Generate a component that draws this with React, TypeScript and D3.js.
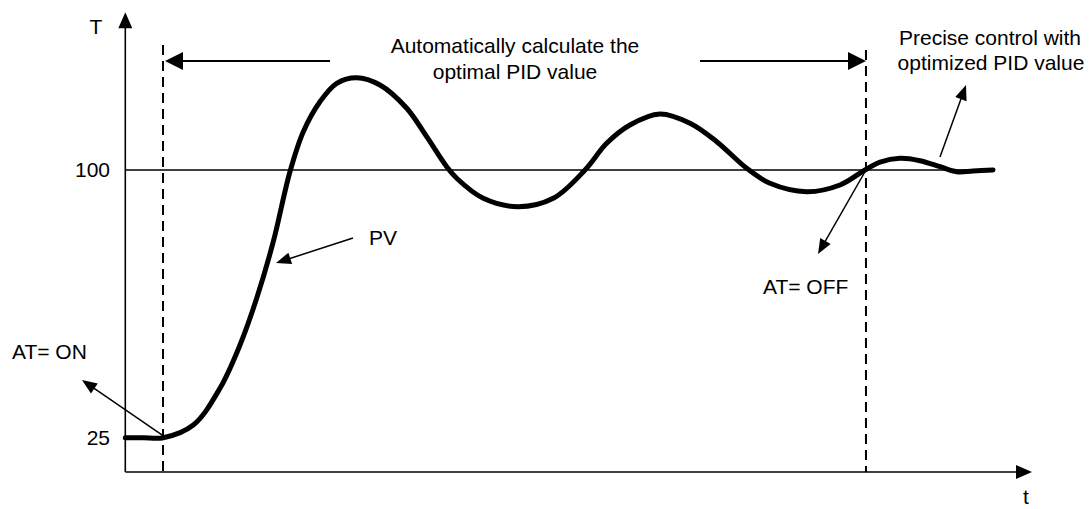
import React from "react";
import * as d3 from "d3";

// Process value (PV) curve: time (arbitrary units) and temperature
const time = [0, 2, 4.19, 7.5, 10.44, 12.65, 14.49, 16.32, 18.16, 19.63, 21.47, 23.32, 25.52, 28.09, 31.04, 33.24, 35.45, 36.55, 39.48, 43.34, 47.2, 50.7, 53.09, 55.66, 58.97, 62.28, 65.23, 68.53, 71.1, 75.15, 78.82, 81.58, 83.24, 85.44, 87.65, 89.85, 91.69, 93.49, 95.7];
const temp = [25, 25, 25, 28.56, 38.84, 50.97, 64.06, 79.91, 99.52, 110.73, 119.14, 124.29, 125.86, 123.82, 117.29, 109.33, 100.93, 97.68, 92.07, 89.72, 92.07, 100, 107.48, 112.61, 115.69, 113.09, 107.93, 100.48, 96.27, 93.92, 95.8, 100, 102.2, 103.28, 102.61, 100.93, 99.52, 99.72, 100];
const yTicks = [25, 100];
const setPoint = 100;
const atOnTime = 4.16;
const atOffTime = 81.69;
const xDomain = [0, 100];
const yAxisTop = 144.2;
const yAxisBottom = 15.4;

const FONT = "'Liberation Sans', Arial, sans-serif";

function arrowHead(x1: number, y1: number, x2: number, y2: number, len: number, half: number) {
  const a = Math.atan2(y2 - y1, x2 - x1);
  const bx = x2 - len * Math.cos(a);
  const by = y2 - len * Math.sin(a);
  const px = -Math.sin(a) * half;
  const py = Math.cos(a) * half;
  return `M${x2},${y2}L${bx + px},${by + py}L${bx - px},${by - py}Z`;
}

function Arrow({ x1, y1, x2, y2, len = 15, half = 6, w = 1.5 }: any) {
  const a = Math.atan2(y2 - y1, x2 - x1);
  const ex = x2 - (len - 2) * Math.cos(a);
  const ey = y2 - (len - 2) * Math.sin(a);
  return (
    <g>
      <line x1={x1} y1={y1} x2={ex} y2={ey} stroke="#000" strokeWidth={w} />
      <path d={arrowHead(x1, y1, x2, y2, len, half)} fill="#000" />
    </g>
  );
}

export default function App() {
  const W = 1091, H = 509;
  const x = d3.scaleLinear().domain(xDomain).range([125.3, 1032]);
  const y = d3.scaleLinear().domain([25, 100]).range([437.7, 170]);
  const pts: [number, number][] = time.map((t, i) => [x(t), y(temp[i])]);
  const line = d3.line().curve(d3.curveCatmullRom.alpha(0.5))(pts) || "";
  const x0 = x(0);
  const yBase = y(yAxisBottom);
  const yTop = y(yAxisTop);
  const xOn = x(atOnTime);
  const xOff = x(atOffTime);
  const xEnd = x(time[time.length - 1]);

  return (
    <svg width={W} height={H} style={{ position: "absolute", left: 0, top: 0, background: "#fff" }} fontFamily={FONT} fontSize={21}>
      <rect width={W} height={H} fill="#fff" />
      {/* set point line */}
      <line x1={x0} x2={xEnd} y1={y(setPoint)} y2={y(setPoint)} stroke="#000" strokeWidth={1.4} />
      {/* dashed lines */}
      <line x1={xOn} x2={xOn} y1={45} y2={yBase} stroke="#000" strokeWidth={2} strokeDasharray="10,6" />
      <line x1={xOff} x2={xOff} y1={50} y2={yBase} stroke="#000" strokeWidth={2} strokeDasharray="10,6" />
      {/* axes */}
      <line x1={x0} x2={x0} y1={yBase} y2={yTop + 12} stroke="#000" strokeWidth={1.6} />
      <path d={arrowHead(x0, yBase, x0, yTop, 16, 7)} fill="#000" />
      <line x1={x0} x2={x(xDomain[1]) - 12} y1={yBase} y2={yBase} stroke="#000" strokeWidth={1.6} />
      <path d={arrowHead(x0, yBase, x(xDomain[1]), yBase, 16, 7)} fill="#000" />
      <text x={96} y={34} textAnchor="middle">T</text>
      <text x={1026} y={504} textAnchor="middle">t</text>
      {yTicks.map((v) => (
        <text key={v} x={110} y={y(v) + 7} textAnchor="end">{v}</text>
      ))}
      {/* PV curve */}
      <path d={line} fill="none" stroke="#000" strokeWidth={5} strokeLinecap="round" strokeLinejoin="round" />
      {/* top arrows */}
      <Arrow x1={330} y1={61} x2={xOn + 2} y2={61} len={18} half={9} w={2} />
      <Arrow x1={700} y1={61} x2={xOff} y2={61} len={18} half={9} w={2} />
      <text x={515} y={53} textAnchor="middle">Automatically calculate the</text>
      <text x={515} y={79} textAnchor="middle">optimal PID value</text>
      <text x={990} y={45} textAnchor="middle">Precise control with</text>
      <text x={991} y={70} textAnchor="middle">optimized PID value</text>
      <Arrow x1={940} y1={157} x2={966} y2={85} />
      <text x={369} y={245}>PV</text>
      <Arrow x1={353} y1={238} x2={276} y2={263} />
      <text x={763} y={294}>AT= OFF</text>
      <Arrow x1={xOff} y1={y(setPoint)} x2={818} y2={254} />
      <text x={12} y={359}>AT= ON</text>
      <Arrow x1={xOn} y1={y(25) - 2} x2={82} y2={380} />
    </svg>
  );
}
